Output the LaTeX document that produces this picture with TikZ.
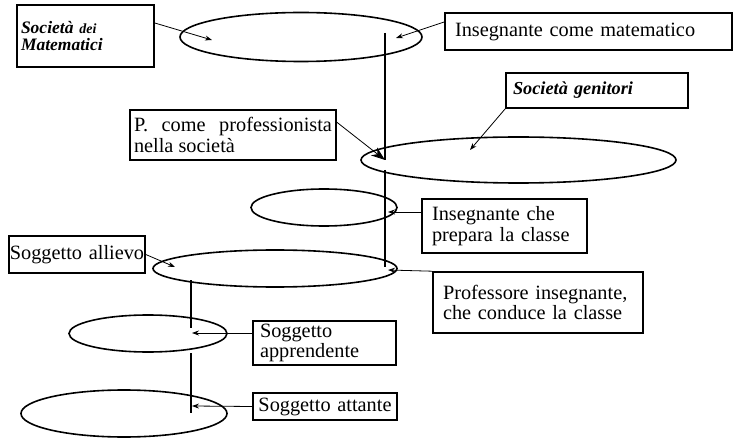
\documentclass[tikz,border=0pt]{standalone}
\usepackage{fontspec}
\setmainfont{Liberation Serif}
\usetikzlibrary{shapes.geometric,arrows.meta}

\begin{document}
\begin{tikzpicture}[x=1pt, y=-1pt,
    every node/.style={font=\fontsize{20.3}{20.7}\selectfont},
    box/.style={draw, rectangle, line width=1.6pt, inner xsep=0pt, inner ysep=0pt, align=left},
    oval/.style={draw, ellipse, line width=1.6pt, inner sep=0pt},
    link/.style={line width=0.8pt, -{Stealth[length=7pt, width=5pt]}},
    axis/.style={line width=1.6pt}]

            \useasboundingbox (0,0) rectangle (733,438);

            % ellipses
            \node[oval, minimum width=242, minimum height=49] (matem) at (301,37) {};
            \node[oval, minimum width=315, minimum height=46] (genit) at (518.5,160) {};
            \node[oval, minimum width=146, minimum height=37] (prep) at (324,207.5) {};
            \node[oval, minimum width=244, minimum height=37] (cond) at (275,268.5) {};
            \node[oval, minimum width=158, minimum height=37] (appr) at (148,333.5) {};
            \node[oval, minimum width=206, minimum height=47] (att) at (124,413.5) {};

            % boxes
            \node[box, minimum width=137, minimum height=62, text width=129,
                  font=\fontsize{17.5}{17.5}\selectfont\bfseries\itshape] (matbox) at (85.5,36)
                  {Società {\fontsize{14}{17.5}\selectfont dei}\\Matematici};
            \node[box, minimum width=287, minimum height=37, text width=267] (insbox) at (588.5,31.5)
                  {Insegnante come matematico};
            \node[box, minimum width=182, minimum height=35, text width=168,
                  font=\fontsize{18.3}{19}\selectfont\bfseries\itshape] (genbox) at (597,90.5)
                  {Società genitori};
            \node[box, minimum width=206, minimum height=50, text width=198, align=justify] (pbox) at (233,135)
                  {P. come professionista nella società};
            \node[box, minimum width=165, minimum height=54, text width=145] (prepbox) at (504.5,226)
                  {Insegnante che\\prepara la classe};
            \node[box, minimum width=210, minimum height=61, text width=190] (condbox) at (538,302.5)
                  {Professore insegnante,\\che conduce la classe};
            \node[box, minimum width=136, minimum height=37, text width=136, align=center] (allbox) at (77,254.5)
                  {Soggetto allievo};
            \node[box, minimum width=143, minimum height=44, text width=129] (appbox) at (324.5,343)
                  {Soggetto\\apprendente};
            \node[box, minimum width=144, minimum height=27, text width=144, align=center] (attbox) at (325,406.5)
                  {Soggetto attante};

            % arrow ends inside the ellipses
            \coordinate (matemin) at (212,40);
            \coordinate (insin) at (396,38);
            \coordinate (genin) at (470,150);
            \coordinate (pin) at (385,160);
            \coordinate (prepin) at (388,212);
            \coordinate (condin) at (388,270);
            \coordinate (allin) at (175,267);
            \coordinate (apprin) at (192,333);
            \coordinate (attin) at (192,406);

            % vertical axes
            \coordinate (a1) at (385,33);
            \coordinate (a2) at (385,160);
            \coordinate (a3) at (385,170);
            \coordinate (a4) at (385,267);
            \coordinate (b1) at (191,280);
            \coordinate (b2) at (191,328);
            \coordinate (b3) at (191,353);
            \coordinate (b4) at (191,413);
            \draw[axis] (a1) -- (a2);
            \draw[axis] (a3) -- (a4);
            \draw[axis] (b1) -- (b2);
            \draw[axis] (b3) -- (b4);

            % connectors
            \draw[link] ([yshift=13pt]matbox.east) -- (matemin);
            \draw[link] ([yshift=9.5pt]insbox.west) -- (insin);
            \draw[link] (genbox.south west) -- (genin);
            \draw[line width=0.8pt, -{Stealth[length=14pt, width=10pt]}] ([yshift=-13pt]pbox.north east) -- (pin);
            \draw[link] ([yshift=14pt]prepbox.west) -- (prepin);
            \draw[link] (condbox.north west) -- (condin);
            \draw[link] (allbox.east) -- (allin);
            \draw[link] ([yshift=10pt]appbox.west) -- (apprin);
            \draw[link] (attbox.west) -- (attin);

\end{tikzpicture}
\end{document}
